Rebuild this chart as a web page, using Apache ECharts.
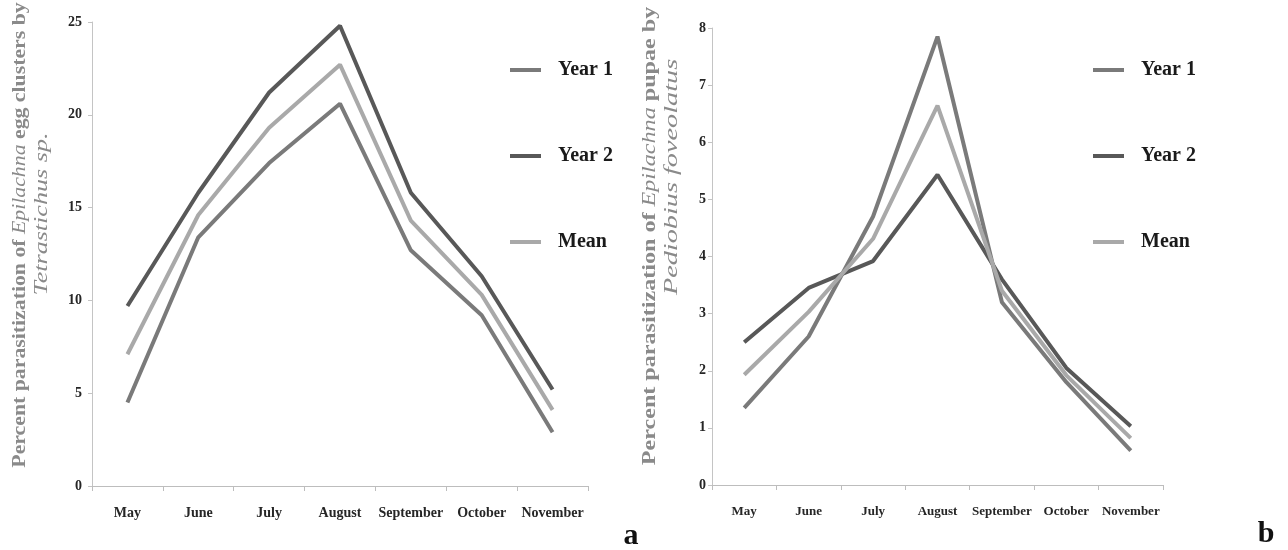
<!DOCTYPE html>
<html>
<head>
<meta charset="utf-8">
<script src="https://cdn.jsdelivr.net/npm/echarts@6/dist/echarts.min.js"></script>
<style>
html,body{margin:0;padding:0;background:#fff;}
#c{width:1288px;height:550px;}
</style>
</head>
<body>
<div id="c"></div>
<script>
// ---- data ----
const months = ['May', 'June', 'July', 'August', 'September', 'October', 'November'];
const seriesNames = ['Year 1', 'Year 2', 'Mean'];
// panel a: egg clusters by Tetrastichus sp.
const eggYear1 = [4.5, 13.4, 17.4, 20.6, 12.7, 9.2, 2.9];
const eggYear2 = [9.7, 15.8, 21.2, 24.8, 15.8, 11.3, 5.2];
const eggMean  = [7.1, 14.6, 19.3, 22.7, 14.3, 10.3, 4.1];
// panel b: pupae by Pediobius foveolatus
const pupYear1 = [1.35, 2.6, 4.7, 7.85, 3.2, 1.8, 0.6];
const pupYear2 = [2.5, 3.45, 3.92, 5.43, 3.6, 2.05, 1.03];
const pupMean  = [1.93, 3.03, 4.31, 6.64, 3.4, 1.92, 0.82];
const yTicksA = {min: 0, max: 25, interval: 5};
const yTicksB = {min: 0, max: 8, interval: 1};

const SERIF = '"Liberation Serif", "DejaVu Serif", serif';
const colors = {'Year 1': '#7a7a7a', 'Year 2': '#585858', 'Mean': '#a9a9a9'};

function mkX(gi, size) {
  return {
    type: 'category', gridIndex: gi, data: months, boundaryGap: true,
    axisLine: {lineStyle: {color: '#bdbdbd', width: 1}},
    axisTick: {show: true, length: 5, lineStyle: {color: '#bdbdbd'}},
    axisLabel: {fontFamily: SERIF, fontWeight: 'bold', fontSize: size, color: '#262626', margin: 20, interval: 0},
    splitLine: {show: false}
  };
}
function mkY(gi, t, size, margin) {
  return {
    type: 'value', gridIndex: gi, min: t.min, max: t.max, interval: t.interval,
    axisLine: {show: true, lineStyle: {color: '#c4c4c4', width: 1}},
    axisTick: {show: true, length: 4, lineStyle: {color: '#c4c4c4'}},
    axisLabel: {fontFamily: SERIF, fontWeight: 'bold', fontSize: size, color: '#262626', margin: margin},
    splitLine: {show: false}
  };
}
function mkS(name, data, gi) {
  return {
    name: name, type: 'line', xAxisIndex: gi, yAxisIndex: gi, data: data,
    symbol: 'none', lineStyle: {width: 4, color: colors[name]}, itemStyle: {color: colors[name]},
    z: name === 'Mean' ? 3 : 2, animation: false
  };
}
function mkLegend(left) {
  return {
    orient: 'vertical', left: left, top: 55, itemGap: 66,
    icon: 'rect', itemWidth: 31, itemHeight: 4,
    data: seriesNames,
    textStyle: {fontFamily: SERIF, fontWeight: 'bold', fontSize: 20, color: '#1a1a1a', padding: [0, 0, 0, 12]},
    selectedMode: false
  };
}
function vtext(x, y, parts, size, sx) {
  let txt = parts.map(p => (p[1] ? '{i|' : '{b|') + p[0] + '}').join('');
  return {
    type: 'text', x: x, y: y, rotation: Math.PI / 2, scaleX: sx, scaleY: 1,
    style: {
      text: txt, textAlign: 'center', textVerticalAlign: 'middle',
      rich: {
        b: {fontFamily: SERIF, fontWeight: 'bold', fontSize: size, fill: '#8a8a8a', color: '#8a8a8a'},
        i: {fontFamily: SERIF, fontStyle: 'italic', fontSize: size, fill: '#8a8a8a', color: '#8a8a8a'}
      }
    }
  };
}

const chart = echarts.init(document.getElementById('c'), null, {renderer: 'canvas'});
chart.setOption({
  backgroundColor: '#ffffff',
  animation: false,
  grid: [
    {left: 92, top: 22, width: 496, height: 464},
    {left: 712, top: 28, width: 451, height: 457}
  ],
  xAxis: [mkX(0, 14), mkX(1, 13)],
  yAxis: [mkY(0, yTicksA, 14, 10), mkY(1, yTicksB, 14, 6)],
  legend: [mkLegend(505), mkLegend(1088)],
  series: [
    mkS('Year 1', eggYear1, 0), mkS('Year 2', eggYear2, 0), mkS('Mean', eggMean, 0),
    mkS('Year 1', pupYear1, 1), mkS('Year 2', pupYear2, 1), mkS('Mean', pupMean, 1)
  ],
  graphic: [
    vtext(20, 235, [['Percent parasitization of '], ['Epilachna', 1], [' egg clusters by']], 18, 1.21),
    vtext(42, 214, [['Tetrastichus sp.', 1]], 18, 1.45),
    vtext(650, 236, [['Percent parasitization of '], ['Epilachna', 1], [' pupae by']], 18, 1.34),
    vtext(672, 177, [['Pediobius foveolatus', 1]], 18, 1.57),
    {type: 'text', x: 631, y: 536, style: {text: 'a', font: 'bold 30px ' + SERIF, fill: '#111', textAlign: 'center', textVerticalAlign: 'middle'}},
    {type: 'text', x: 1266, y: 534, style: {text: 'b', font: 'bold 30px ' + SERIF, fill: '#111', textAlign: 'center', textVerticalAlign: 'middle'}}
  ]
});
</script>
</body>
</html>
